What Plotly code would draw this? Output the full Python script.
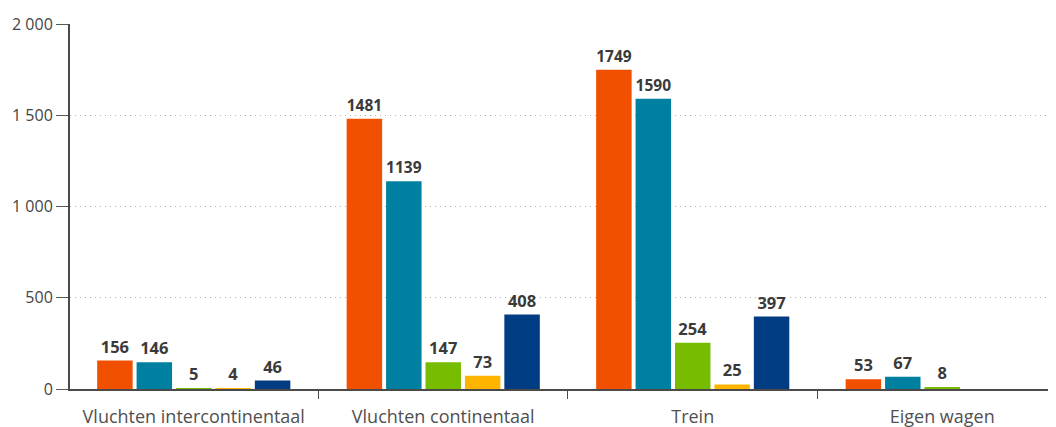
import plotly.graph_objects as go

categories = ["Vluchten intercontinentaal", "Vluchten continentaal", "Trein", "Eigen wagen"]
series_names = ["Reeks 1", "Reeks 2", "Reeks 3", "Reeks 4", "Reeks 5"]
s1 = [156, 1481, 1749, 53]
s2 = [146, 1139, 1590, 67]
s3 = [5, 147, 254, 8]
s4 = [4, 73, 25, None]
s5 = [46, 408, 397, None]
colors = ["#f05000", "#0080a0", "#78bc00", "#ffb400", "#003c82"]
ytick_vals = [0, 500, 1000, 1500, 2000]
ytick_text = ["0", "500", "1 000", "1 500", "2 000"]

fig = go.Figure()
for name, vals, col in zip(series_names, [s1, s2, s3, s4, s5], colors):
    fig.add_trace(go.Bar(
        x=categories, y=vals, name=name, marker_color=col, marker_line_width=0,
        text=[("" if v is None else str(v)) for v in vals],
        textposition="outside", cliponaxis=False,
        textfont=dict(family="Open Sans", size=16.5, color="#3a3a3a", weight="bold"),
    ))

# page body has an 8px default margin, so the figure is offset by 8px
fig.update_layout(
    width=1048, height=419,
    margin=dict(l=62, r=2, t=16, b=38, autoexpand=False),
    paper_bgcolor="white", plot_bgcolor="white",
    showlegend=False,
    barmode="group", bargap=0.21, bargroupgap=0.1,
    font=dict(family="Open Sans", color="#444444"),
)
fig.update_xaxes(
    range=[-0.496, 3.448], type="category", automargin=False,
    showline=True, linecolor="#4a4a4a", linewidth=2,
    ticks="outside", tickson="boundaries", ticklen=8, tickcolor="#4a4a4a",
    tickfont=dict(size=18, color="#505050", family="Open Sans"),
    ticklabelstandoff=10,
    showgrid=False,
)
fig.update_yaxes(
    range=[0, 2000], tickvals=ytick_vals, ticktext=ytick_text, automargin=False,
    showline=True, linecolor="#4a4a4a", linewidth=2,
    ticks="outside", ticklen=12, tickcolor="#5a5a5a",
    tickfont=dict(size=16, color="#444444", family="Open Sans"),
    showgrid=True, gridcolor="#b0b0b0", griddash="1px,4px", gridwidth=1,
    zeroline=False,
)
fig.write_html("out.html")
